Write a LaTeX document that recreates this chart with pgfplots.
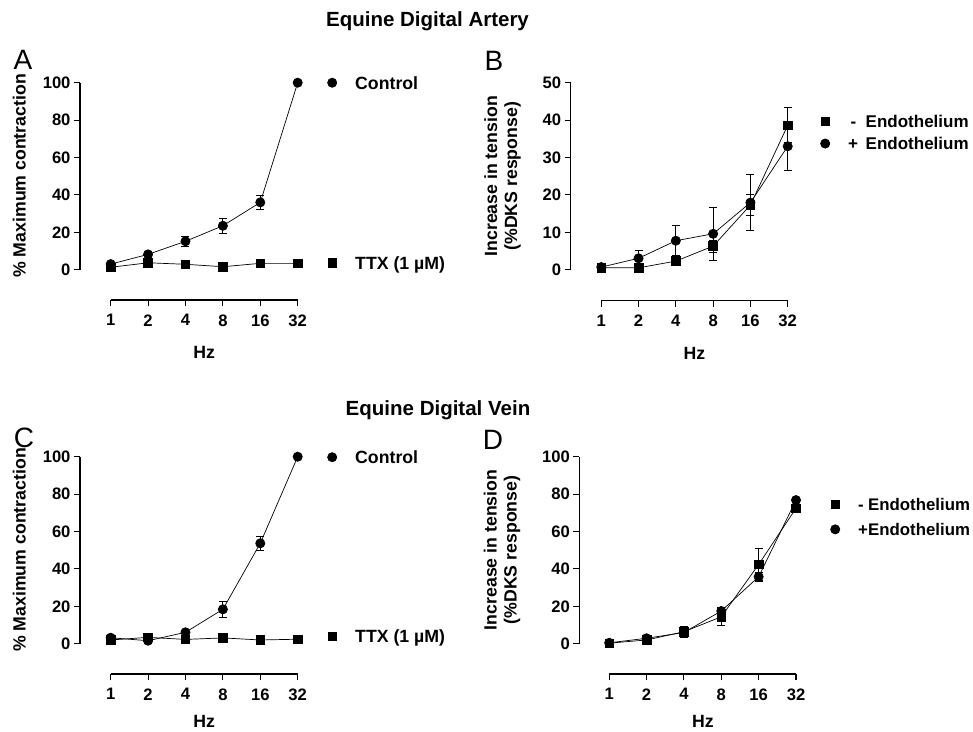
\documentclass[border=0pt]{standalone}
\usepackage{fontspec}
\setmainfont{Liberation Sans}
\usepackage{pgfplots}
\pgfplotsset{compat=1.18}

\pgfplotsset{
  scale only axis,
  axis lines=left,
  axis line style={draw=none},
  xtick={1,2,4,8,16,32}, xticklabels={1,2,4,8,16,32},
  minor xtick={},
  tick align=outside,
  major tick length=6pt,
  tick style={line width=1.1pt, black},
  tick label style={font=\fontsize{16.6}{18}\selectfont\bfseries},
  x tick label style={yshift=-5pt},
  label style={font=\fontsize{17.7}{20}\selectfont\bfseries},
  /pgf/number format/assume math mode=true,
  clip=false,
  xlabel style={at={(ticklabel cs:0.5705)}, yshift=-13pt},
  ylabel style={at={(ticklabel cs:0.571)}, yshift=10pt},
  legend cell align=left,
  legend style={draw=none, fill=none, inner sep=0pt, column sep=18pt,
    font=\fontsize{17.7}{20}\selectfont\bfseries,
    nodes={inner sep=0pt, text height=12pt, text depth=0pt}},
  legend image code/.code={\draw[only marks] plot coordinates {(0pt,0.3pt)};
    \path[draw=none, fill=none] (-5pt,-6pt) rectangle (5pt,6pt);},
  error bars/y dir=both,
  error bars/y explicit,
  error bars/error bar style={line width=0.9pt, black},
  error bars/error mark options={rotate=90, mark size=4pt, line width=0.9pt, black},
}
\tikzset{
  circ/.style={black, line width=0.7pt, mark=*, mark size=4.6pt, mark options={fill=black, draw=black}},
  sq/.style={black, line width=0.7pt, mark=square*, mark size=4.3pt, mark options={fill=black, draw=black}},
}

\newcommand{\axlines}{%
  \draw[line width=1.2pt] ({rel axis cs:0,0}|-{axis cs:1,0}) -- (rel axis cs:0,1);
  \draw[line width=1.2pt] ({axis cs:1,0}|-{rel axis cs:0,0}) -- ({axis cs:32,0}|-{rel axis cs:0,0});
}

\begin{document}
\begin{tikzpicture}
\useasboundingbox (0,0) rectangle (973pt,-731pt);

\node[font=\fontsize{20.5}{22}\selectfont\bfseries] at (427.5pt,-21pt) {Equine Digital Artery};
\node[font=\fontsize{20.5}{22}\selectfont\bfseries] at (438pt,-410pt) {Equine Digital Vein};
\node[font=\fontsize{28}{30}\selectfont] at (23pt,-60pt) {A};
\node[font=\fontsize{28}{30}\selectfont] at (494pt,-61pt) {B};
\node[font=\fontsize{28}{30}\selectfont] at (24pt,-438pt) {C};
\node[font=\fontsize{28}{30}\selectfont] at (493pt,-440pt) {D};

% A
\begin{axis}[at={(80pt,-300pt)}, anchor=south west,
  width=217.7pt, height=217.3pt,
  xmode=log, log basis x=2,
  xmin=0.5665, xmax=32, ymin=-16.2, ymax=100,
  ytick={0,20,40,60,80,100},
  xlabel={Hz}, ylabel={\% Maximum contraction},
  legend style={at={(1.1346,0.5844)}, anchor=west, row sep=168pt}]
\addplot[circ] coordinates {(1,3.0)+-(0,0.5) (2,8.2)+-(0,0.8) (4,15.2)+-(0,2.7) (8,23.5)+-(0,3.9) (16,36.0)+-(0,3.6) (32,100)+-(0,0)};
\addlegendentry{Control}
\addplot[sq] coordinates {(1,1.3)+-(0,0.3) (2,3.7)+-(0,0.5) (4,2.9)+-(0,0.5) (8,1.6)+-(0,0.4) (16,3.4)+-(0,0.5) (32,3.4)+-(0,0.5)};
\addlegendentry{TTX (1 µM)}
\axlines
\end{axis}

% B
\begin{axis}[at={(570.7pt,-300.7pt)}, anchor=south west,
  width=217pt, height=218pt,
  xmode=log, log basis x=2,
  xmin=0.5665, xmax=32, ymin=-8.29, ymax=50,
  ytick={0,10,20,30,40,50},
  xlabel={Hz}, ylabel={Increase in tension\\(\%DKS response)}, ylabel style={align=center, yshift=5pt},
  legend style={at={(1.1488,0.770)}, anchor=west, row sep=10pt,
    font=\fontsize{17}{20}\selectfont\bfseries}]
\addplot[sq] coordinates {(1,0.5)+-(0,0.3) (2,0.5)+-(0,0.3) (4,2.3)+-(0,0.5) (8,6.3)+-(0,1.6) (16,17.3)+-(0,2.7) (32,38.6)+-(0,4.7)};
\addlegendentry{\makebox[17.5pt][l]{\hspace{2.5pt}-}Endothelium}
\addplot[circ] coordinates {(1,0.7)+-(0,0.3) (2,3.05)+-(0,2.0) (4,7.75)+-(0,4.0) (8,9.6)+-(0,7.1) (16,17.95)+-(0,7.5) (32,33.0)+-(0,6.4)};
\addlegendentry{\makebox[17.5pt][l]{+}Endothelium}
\axlines
\end{axis}

% C
\begin{axis}[at={(80pt,-674pt)}, anchor=south west,
  width=217.7pt, height=217.3pt,
  xmode=log, log basis x=2,
  xmin=0.5665, xmax=32, ymin=-16.2, ymax=100,
  ytick={0,20,40,60,80,100},
  xlabel={Hz}, ylabel={\% Maximum contraction}, xlabel style={yshift=5pt},
  legend style={at={(1.1346,0.5844)}, anchor=west, row sep=167pt}]
\addplot[circ] coordinates {(1,3.2)+-(0,0.5) (2,1.6)+-(0,0.5) (4,6.1)+-(0,0.8) (8,18.4)+-(0,4.4) (16,53.7)+-(0,3.9) (32,100)+-(0,0)};
\addlegendentry{Control}
\addplot[sq] coordinates {(1,2.0)+-(0,0.4) (2,3.4)+-(0,0.5) (4,2.3)+-(0,0.4) (8,3.1)+-(0,0.4) (16,2.0)+-(0,0.4) (32,2.4)+-(0,0.4)};
\addlegendentry{TTX (1 µM)}
\axlines
\end{axis}

% D
\begin{axis}[at={(579.3pt,-674pt)}, anchor=south west,
  width=216.7pt, height=217.3pt,
  xmode=log, log basis x=2,
  xmin=0.5743, xmax=32, ymin=-16.2, ymax=100,
  ytick={0,20,40,60,80,100},
  xlabel={Hz}, ylabel={Increase in tension\\(\%DKS response)}, ylabel style={align=center, yshift=5pt},
  xlabel style={yshift=5pt},
  legend style={at={(1.157,0.7218)}, anchor=west, row sep=13pt,
    font=\fontsize{16.8}{20}\selectfont\bfseries}]
\addplot[sq] coordinates {(1,0.3)+-(0,0.3) (2,2.0)+-(0,0.5) (4,6.4)+-(0,3.0) (8,14.4)+-(0,4.4) (16,42.4)+-(0,8.6) (32,72.4)+-(0,1.0)};
\addlegendentry{\makebox[10pt][l]{-}Endothelium}
\addplot[circ] coordinates {(1,0.5)+-(0,0.3) (2,2.9)+-(0,0.5) (4,6.0)+-(0,1.0) (8,17.5)+-(0,2.0) (16,35.8)+-(0,2.5) (32,76.8)+-(0,1.0)};
\addlegendentry{\makebox[10pt][l]{+}Endothelium}
\axlines
\end{axis}
\end{tikzpicture}
\end{document}
